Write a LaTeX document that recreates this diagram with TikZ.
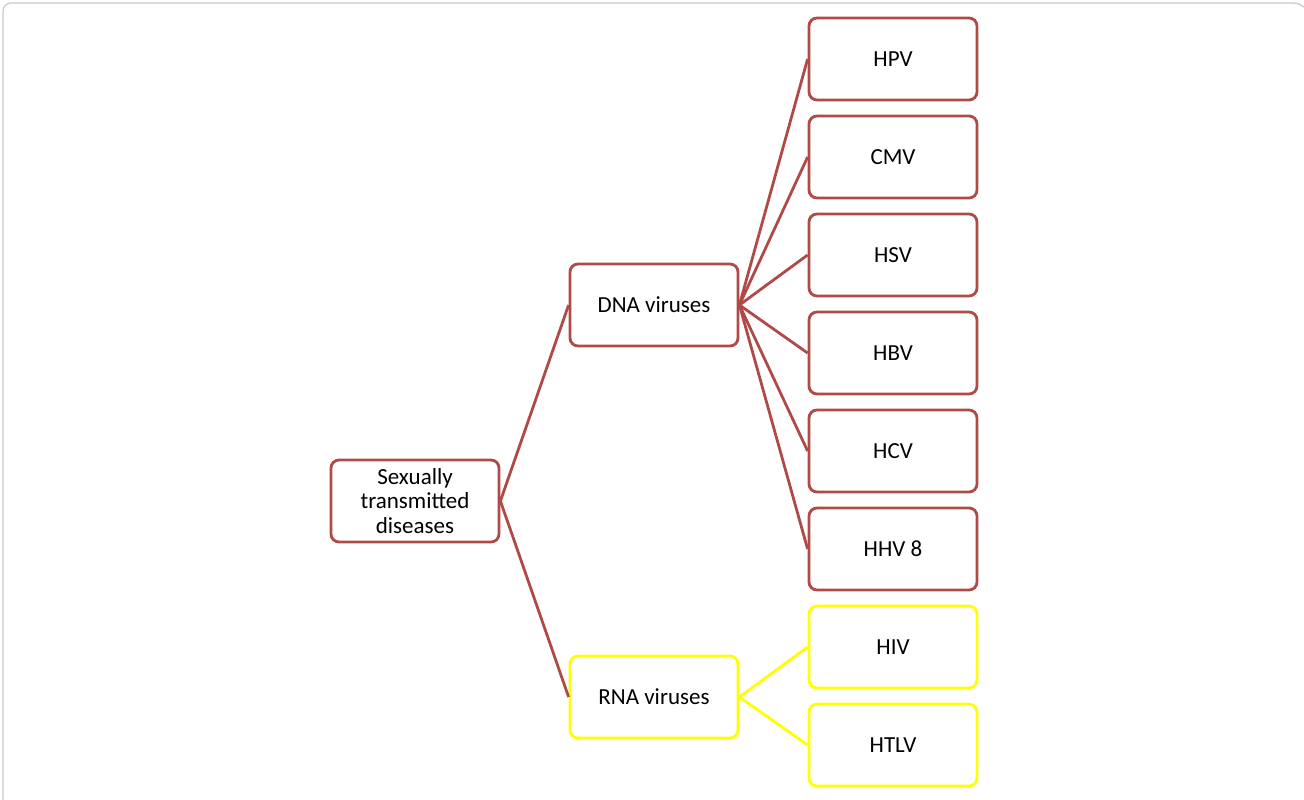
\documentclass[tikz,border=0pt]{standalone}
\usepackage{fontspec}
\setmainfont{Carlito}
\definecolor{dnared}{HTML}{B04A47}
\definecolor{rnayel}{HTML}{FFFF00}
\definecolor{frame}{HTML}{C8C8C8}
\begin{document}
\begin{tikzpicture}[x=1pt,y=-1pt,
  box/.style={draw=#1, line width=2.8pt, rounded corners=8pt, fill=white,
    minimum width=168pt, minimum height=82pt, inner sep=0pt, align=center,
    font=\fontsize{23}{24.5}\selectfont},
  link/.style={draw=#1, line width=2.8pt}]
\useasboundingbox (0,0) rectangle (1304,800);
\draw[frame, line width=1.2pt, rounded corners=8pt] (3,800) -- (3,3) -- (1302,3) -- (1304,6);
\node[box=dnared] (std) at (415,501) {Sexually\\transmitted\\diseases};
\node[box=dnared] (dna) at (654,305) {DNA viruses};
\node[box=rnayel] (rna) at (654,697) {RNA viruses};
\node[box=dnared] (hpv) at (893,59) {HPV};
\node[box=dnared] (cmv) at (893,157) {CMV};
\node[box=dnared] (hsv) at (893,255) {HSV};
\node[box=dnared] (hbv) at (893,353) {HBV};
\node[box=dnared] (hcv) at (893,451) {HCV};
\node[box=dnared] (hhv) at (893,549) {HHV 8};
\node[box=rnayel] (hiv) at (893,647) {HIV};
\node[box=rnayel] (htlv) at (893,745) {HTLV};
\draw[link=dnared] (std.east) -- (dna.west);
\draw[link=dnared] (std.east) -- (rna.west);
\foreach \c in {hpv,cmv,hsv,hbv,hcv,hhv}
  \draw[link=dnared] (dna.east) -- (\c.west);
\foreach \c in {hiv,htlv}
  \draw[link=rnayel] (rna.east) -- (\c.west);
\end{tikzpicture}
\end{document}
